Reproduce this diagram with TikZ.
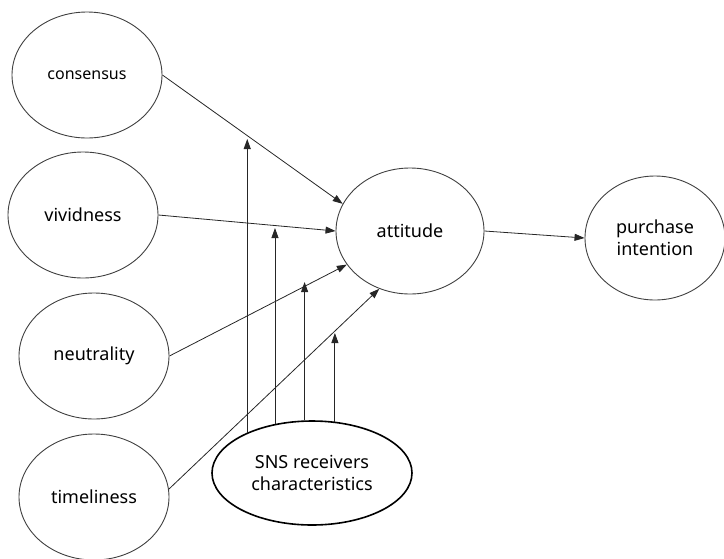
\documentclass[tikz,border=0pt]{standalone}
\usepackage{fontspec}
\setmainfont{Noto Sans}
\usetikzlibrary{shapes.geometric,arrows.meta}

\begin{document}
\begin{tikzpicture}[x=1pt, y=-1pt, >={Triangle[length=10pt,width=7pt]},
    var/.style={ellipse, draw=black!75, line width=0.9pt, minimum width=150pt, minimum height=126pt, inner sep=0pt, align=center, font=\fontsize{18}{22}\selectfont},
    link/.style={->, line width=0.8pt, black!85}]
    \useasboundingbox (0,0) rectangle (724,558);

    \node[var] (cons) at (87,75) {\fontsize{16}{20}\selectfont consensus};
    \node[var] (vivid) at (83,215) {vividness};
    \node[var] (neutral) at (94,356) {neutrality};
    \node[var] (timely) at (94,497) {timeliness};
    \node[var,minimum width=148pt] (att) at (410,231) {attitude};
    \node[var,minimum width=140pt,minimum height=124pt] (purchase) at (655,238) {purchase\\intention};
    \node[var,draw=black,line width=1.6pt,minimum width=200pt,minimum height=104pt] (sns) at (312,473) {SNS receivers\\characteristics};

    \coordinate (top1) at (248,139);
    \coordinate (top2) at (276,228);
    \coordinate (top3) at (305,282);
    \coordinate (top4) at (335,333);

    \draw[link] (cons.east) -- (att.158);
    \draw[link] (vivid.east) -- (att.west);
    \draw[link] (neutral.east) -- (att.208);
    \draw[link] (timely.6) -- (att.242);
    \draw[link] (att.east) -- (purchase.west);

    \draw[link] (sns.148) -- (sns.148 |- top1);
    \draw[link] (sns.127) -- (sns.127 |- top2);
    \draw[link] (sns.98) -- (sns.98 |- top3);
    \draw[link] (sns.66) -- (sns.66 |- top4);
\end{tikzpicture}
\end{document}
